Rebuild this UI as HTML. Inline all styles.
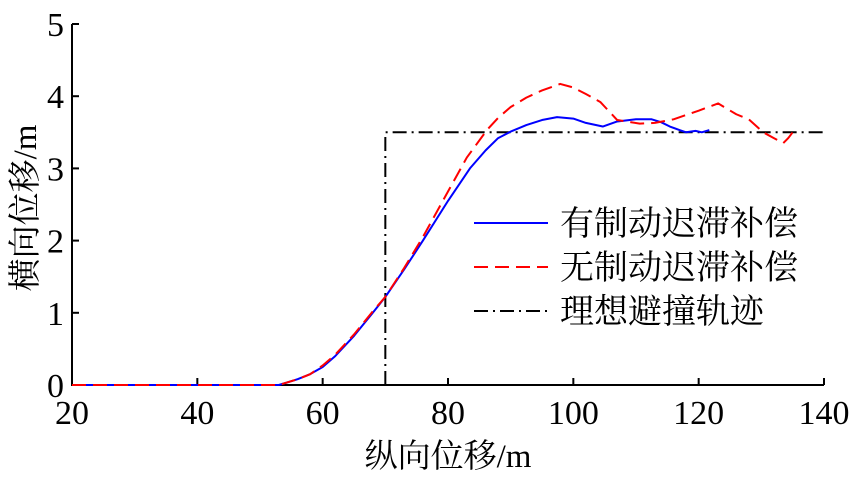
<!DOCTYPE html>
<html><head><meta charset="utf-8"><style>
body{margin:0;background:#fff}
text{font-family:"Liberation Serif","Noto Serif CJK SC",serif;fill:#000}
</style></head><body>
<svg id="c" width="850" height="474"></svg>
<script>
const xTicks=[20,40,60,80,100,120,140];
const yTicks=[0,1,2,3,4,5];
const blueX=[20,50,53,56,58,60,62,65,68,70,73,76,80,83.5,86,88,90,92.5,95,97.4,100,102,104.7,107,110,112.5,114,115.4,117,118,119.5,120.5,121.7];
const blueY=[0,0,0,0.08,0.15,0.25,0.4,0.68,1.0,1.22,1.6,2.0,2.55,3.0,3.25,3.42,3.51,3.6,3.67,3.71,3.69,3.63,3.58,3.65,3.68,3.68,3.64,3.58,3.53,3.5,3.52,3.5,3.53];
const redX=[20,50,53,56,58,60,62,65,68,70,73,76,80,83,86.2,88,90,92.5,95,97.9,100,102,104.3,107,110.6,113,116,120,123.1,126,128,130.3,132,133.5,134.3,135];
const redY=[0,0,0,0.08,0.15,0.27,0.42,0.7,1.02,1.22,1.62,2.05,2.68,3.15,3.53,3.7,3.85,3.98,4.08,4.17,4.12,4.03,3.92,3.67,3.62,3.63,3.68,3.8,3.9,3.75,3.68,3.5,3.42,3.35,3.42,3.5];
const idealX=[70,70,140];
const idealY=[0,3.5,3.5];
const X=v=>72+(v-20)*(752/120), Y=v=>385-v*72.2;
const svg=document.getElementById('c');const NS='http://www.w3.org/2000/svg';
function mk(t,a,p){const e=document.createElementNS(NS,t);for(const k in a)e.setAttribute(k,a[k]);(p||svg).appendChild(e);return e;}
let e;
e=mk('path',{d:'M72,24V385H824',fill:'none',stroke:'#000','stroke-width':2});


xTicks.forEach(t=>{mk('line',{x1:X(t),x2:X(t),y1:385,y2:378,stroke:'#000','stroke-width':2});
 e=mk('text',{x:X(t),y:424,'font-size':34,'text-anchor':'middle'});e.textContent=t;
 
 });
yTicks.forEach(t=>{mk('line',{x1:72,x2:79,y1:Y(t),y2:Y(t),stroke:'#000','stroke-width':2});
 e=mk('text',{x:64,y:Y(t)+12,'font-size':34,'text-anchor':'end'});e.textContent=t;
 
 });
e=mk('text',{x:448,y:467,'font-size':33,'text-anchor':'middle'});e.textContent='纵向位移/m';


e=mk('text',{x:0,y:0,'font-size':33,'text-anchor':'middle',transform:'translate(36,208) rotate(-90)'});e.textContent='横向位移/m';


function line(xs,ys,col,dash,w){return mk('polyline',{points:xs.map((x,i)=>X(x)+','+Y(ys[i])).join(' '),fill:'none',stroke:col,'stroke-width':w,'stroke-dasharray':dash,'stroke-linejoin':'round'});}
e=line(idealX,idealY,'#000','14,5,2,5',2);


e=line(blueX,blueY,'#0000ff','none',2);


e=line(redX,redY,'#ff0000','14,7',2);


const legN=['有制动迟滞补偿','无制动迟滞补偿','理想避撞轨迹'];
const legC=['#0000ff','#ff0000','#000'];const legD=['none','14,7','14,5,2,5'];
legN.forEach((n,i)=>{const y=223+i*44;
 e=mk('line',{x1:474,x2:548,y1:y,y2:y,stroke:legC[i],'stroke-width':2,'stroke-dasharray':legD[i]});
 
 
 e=mk('text',{x:560,y:y+12,'font-size':34,'font-family':'"Noto Sans CJK SC",sans-serif'});e.textContent=n;
 
 });
</script></body></html>
